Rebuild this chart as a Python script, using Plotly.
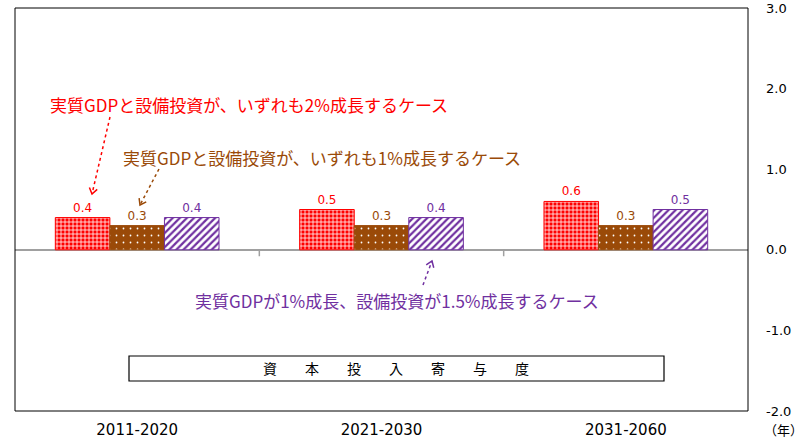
import math
import plotly.graph_objects as go

# Periods on the horizontal axis
periods = ["2011-2020", "2021-2030", "2031-2060"]

# Capital input contribution (percentage points) under three growth cases
case_2pct = [0.4, 0.5, 0.6]        # real GDP and capex both grow 2%
case_1pct = [0.3, 0.3, 0.3]        # real GDP and capex both grow 1%
case_mixed = [0.4, 0.4, 0.5]       # real GDP 1%, capex 1.5%

case_names = [
    "実質GDPと設備投資が、いずれも2%成長するケース",
    "実質GDPと設備投資が、いずれも1%成長するケース",
    "実質GDPが1%成長、設備投資が1.5%成長するケース",
]

y_ticks = [3.0, 2.0, 1.0, 0.0, -1.0, -2.0]

RED = "#FF0000"
BROWN = "#9A4A08"
PURPLE = "#7030A0"

W, H = 810, 438
ML, MR, MT, MB = 15, 62, 8, 27
PW, PH = W - ML - MR, H - MT - MB


def px(x):
    return (x - ML) / PW


def py(y):
    return 1 - (y - MT) / PH


fig = go.Figure()

fig.add_trace(go.Bar(
    x=periods, y=case_2pct, name=case_names[0],
    marker=dict(color=RED, line=dict(color=RED, width=1),
                pattern=dict(shape="+", fgcolor="white", bgcolor=RED,
                             size=4, solidity=0.35, fillmode="replace")),
    texttemplate="%{y:.1f}", textposition="outside",
    textfont=dict(color=RED, size=12, family="DejaVu Sans"),
    cliponaxis=False,
))
fig.add_trace(go.Bar(
    x=periods, y=case_1pct, name=case_names[1],
    marker=dict(color=BROWN, line=dict(color=BROWN, width=1),
                pattern=dict(shape=".", fgcolor="white", bgcolor=BROWN,
                             size=7, solidity=0.05, fillmode="replace")),
    texttemplate="%{y:.1f}", textposition="outside",
    textfont=dict(color=BROWN, size=12, family="DejaVu Sans"),
    cliponaxis=False,
))
fig.add_trace(go.Bar(
    x=periods, y=case_mixed, name=case_names[2],
    marker=dict(color="white", line=dict(color=PURPLE, width=1),
                pattern=dict(shape="/", fgcolor=PURPLE, bgcolor="white",
                             size=5, solidity=0.45, fillmode="replace")),
    texttemplate="%{y:.1f}", textposition="outside",
    textfont=dict(color=PURPLE, size=12, family="DejaVu Sans"),
    cliponaxis=False,
))

shapes = []
annotations = []

# Plot frame
shapes.append(dict(type="rect", xref="paper", yref="paper", x0=0, y0=0, x1=1, y1=1,
                   line=dict(color="black", width=1)))

# Small tick marks between periods on the zero line
for b in (0.5, 1.5):
    shapes.append(dict(type="line", xref="x", yref="y", x0=b, x1=b, y0=0, y1=-0.08,
                       line=dict(color="#A0A0A0", width=1.5)))


def dashed_arrow(x0, y0, x1, y1, color):
    shapes.append(dict(type="line", xref="paper", yref="paper",
                       x0=px(x0), y0=py(y0), x1=px(x1), y1=py(y1),
                       line=dict(color=color, width=1.5, dash="dot")))
    ang = math.atan2(y1 - y0, x1 - x0)
    L = 7
    pts = []
    for d in (math.radians(35), -math.radians(35)):
        a = ang + math.pi + d
        pts.append((x1 + L * math.cos(a), y1 + L * math.sin(a)))
    path = "M {} {} L {} {} L {} {}".format(
        px(pts[0][0]), py(pts[0][1]), px(x1), py(y1), px(pts[1][0]), py(pts[1][1]))
    shapes.append(dict(type="path", xref="paper", yref="paper", path=path,
                       line=dict(color=color, width=1.5)))


dashed_arrow(110, 117, 92, 194, RED)
dashed_arrow(159, 169, 140, 205, BROWN)
dashed_arrow(423, 285, 432, 261, PURPLE)

CJK = "Noto Sans CJK JP"


def label(x, y, text, color, size, xanchor="center"):
    annotations.append(dict(x=px(x), y=py(y), xref="paper", yref="paper",
                            xanchor=xanchor, yanchor="middle",
                            text=text, showarrow=False,
                            font=dict(color=color, size=size, family=CJK)))


label(48, 104, case_names[0], RED, 17, "left")
label(121, 157, case_names[1], BROWN, 17, "left")
label(397, 300, case_names[2], PURPLE, 17)

# Title box
shapes.append(dict(type="rect", xref="paper", yref="paper",
                   x0=px(129), y0=py(381), x1=px(664), y1=py(356),
                   line=dict(color="black", width=1.2)))
label(396, 368, "資　　本　　投　　入　　寄　　与　　度", "black", 14)

# Unit label under the value axis
label(762, 430, "（年）", "black", 13, "left")

fig.update_layout(
    width=W, height=H,
    margin=dict(l=ML, r=MR, t=MT, b=MB),
    paper_bgcolor="white", plot_bgcolor="white",
    barmode="group", bargap=0.33, bargroupgap=0,
    showlegend=False,
    shapes=shapes, annotations=annotations,
    xaxis=dict(showgrid=False, showline=False, ticks="", zeroline=False,
               automargin=False, ticklabelstandoff=8,
               tickfont=dict(size=15, color="black", family="DejaVu Sans")),
    yaxis=dict(side="right", range=[-2, 3], tickvals=y_ticks,
               ticktext=["{:.1f}".format(v) for v in y_ticks],
               showgrid=False, showline=False, ticks="",
               zeroline=True, zerolinecolor="#A0A0A0", zerolinewidth=1.5,
               automargin=False, ticklabelstandoff=17,
               tickfont=dict(size=13, color="black", family="DejaVu Sans")),
)

fig.write_html("out.html")
